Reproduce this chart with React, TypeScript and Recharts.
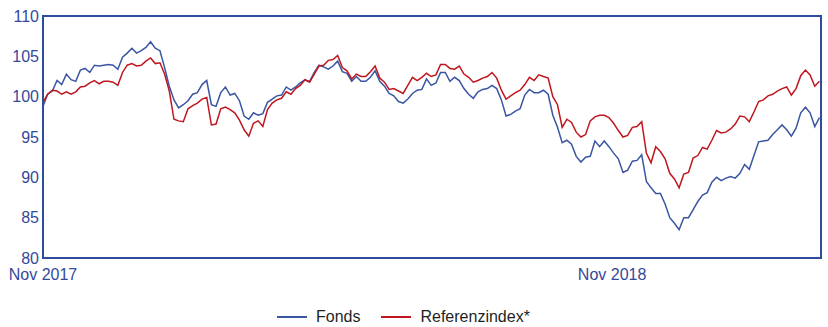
import { LineChart, Line, XAxis, YAxis, ReferenceArea } from 'recharts';

// Indexed performance, sampled every 3 calendar days starting Nov 2017
const fonds = [
  98.8, 100.3, 100.7, 102.0, 101.5, 102.8, 102.1, 101.9, 103.3, 103.5,
  103.0, 103.9, 103.8, 103.9, 104.0, 103.9, 103.4, 104.9, 105.4, 106.0,
  105.4, 105.7, 106.1, 106.8, 106.0, 105.7, 103.6, 101.3, 99.6, 98.6,
  99.0, 99.5, 100.3, 100.5, 101.5, 102.0, 99.0, 98.8, 100.5, 101.2,
  100.2, 100.4, 99.5, 97.6, 97.2, 98.0, 97.7, 97.9, 99.3, 99.7,
  100.1, 100.2, 101.2, 100.8, 101.2, 101.7, 102.1, 101.9, 103.0, 103.9,
  103.7, 103.4, 103.8, 104.4, 103.1, 102.9, 101.9, 102.5, 101.9, 101.9,
  102.4, 103.2, 101.9, 101.3, 100.4, 100.1, 99.4, 99.2, 99.7, 100.4,
  100.8, 100.9, 102.2, 101.4, 101.7, 103.0, 103.0, 101.9, 102.4, 102.0,
  101.0, 100.3, 99.8, 100.6, 100.9, 101.0, 101.4, 101.0, 99.6, 97.6,
  97.8, 98.2, 98.5, 100.2, 100.9, 100.5, 100.5, 100.8, 100.3, 97.7,
  96.2, 94.3, 94.6, 94.1, 92.6, 91.9, 92.5, 92.6, 94.5, 93.8,
  94.5, 93.8, 93.0, 92.3, 90.6, 90.9, 92.0, 92.1, 92.8, 89.5,
  88.7, 88.0, 88.0, 86.7, 85.0, 84.3, 83.5, 85.0, 85.0, 86.0,
  87.0, 87.8, 88.1, 89.4, 90.0, 89.6, 89.9, 90.1, 89.9, 90.5,
  91.6, 91.0, 92.7, 94.4, 94.5, 94.6, 95.3, 95.9, 96.5, 95.9,
  95.1, 96.1, 98.0, 98.7, 98.0, 96.3, 97.4,
];

const referenz = [
  99.3, 100.3, 100.8, 100.7, 100.3, 100.6, 100.3, 100.6, 101.2, 101.3,
  101.7, 102.0, 101.6, 101.9, 101.9, 101.8, 101.4, 103.0, 103.9, 104.1,
  103.8, 103.9, 104.4, 104.8, 104.1, 104.2, 102.8, 100.7, 97.2, 97.0,
  96.9, 98.5, 98.9, 99.2, 99.7, 99.9, 96.5, 96.6, 98.5, 98.7,
  98.4, 98.0, 97.1, 95.9, 95.1, 96.7, 97.0, 96.3, 98.4, 99.2,
  99.6, 99.8, 100.6, 100.3, 101.0, 101.4, 102.1, 101.8, 102.8, 103.8,
  103.9, 104.5, 104.6, 105.1, 103.6, 103.2, 102.2, 102.8, 102.5, 102.5,
  103.1, 103.8, 102.3, 101.8, 100.9, 101.0, 100.7, 100.4, 101.4, 102.4,
  102.0, 102.4, 102.9, 102.5, 102.7, 104.0, 104.0, 103.5, 103.4, 103.8,
  102.8, 102.4, 101.8, 102.0, 102.3, 102.5, 103.0, 102.3, 100.8, 99.7,
  100.1, 100.5, 100.8, 101.5, 102.4, 102.0, 102.7, 102.5, 102.3, 100.0,
  99.0, 96.2, 97.2, 96.8, 95.6, 95.0, 95.3, 97.0, 97.5, 97.7,
  97.7, 97.4, 96.7, 95.8, 95.0, 95.2, 96.2, 96.3, 96.9, 93.0,
  91.8, 93.8, 93.2, 92.3, 90.5, 89.8, 88.7, 90.4, 90.6, 92.4,
  92.7, 93.7, 93.5, 94.6, 95.8, 95.5, 95.6, 96.0, 96.6, 97.6,
  97.5, 96.9, 98.1, 99.4, 99.6, 100.1, 100.3, 100.7, 101.0, 101.2,
  100.2, 101.0, 102.6, 103.3, 102.7, 101.3, 101.9,
];

const STEP_DAYS = 3;
const LAST_DAY = 499;

const xTickDays = [0, 365];
const xTickLabels = ['Nov 2017', 'Nov 2018'];
const yTicks = [80, 85, 90, 95, 100, 105, 110];

const data = fonds.map((v, i) => ({
  day: i * STEP_DAYS,
  fonds: v,
  referenz: referenz[i],
}));

const BLUE = '#3a55a2';
const RED = '#c0161e';
const FRAME = '#2f4c9c';
const TICK_TEXT = '#35489a';
const FONT = '"Liberation Sans", Arial, sans-serif';

const tickStyle = { fontSize: 16, fill: TICK_TEXT, fontFamily: FONT };

function LegendItem({ color, label }: { color: string; label: string }) {
  return (
    <div style={{ display: 'flex', alignItems: 'center', marginRight: 21, height: 18 }}>
      <div style={{ width: 30, height: 2, background: color, marginRight: 9 }} />
      <div>{label}</div>
    </div>
  );
}

export default function App() {
  return (
    <div style={{ position: 'absolute', left: 0, top: 0, width: 828, height: 327, background: '#fff', overflow: 'hidden' }}>
      <LineChart
        width={828}
        height={327}
        data={data}
        margin={{ top: 16, right: 7, left: 0, bottom: 39 }}
      >
        <XAxis
          dataKey="day"
          type="number"
          domain={[0, LAST_DAY]}
          ticks={xTickDays}
          interval={0}
          tickFormatter={(d: number) => xTickLabels[xTickDays.indexOf(d)] ?? ''}
          height={30}
          tickSize={0}
          tickMargin={11}
          axisLine={{ stroke: FRAME, strokeWidth: 2 }}
          tick={tickStyle}
        />
        <YAxis
          type="number"
          domain={[80, 110]}
          ticks={yTicks}
          interval={0}
          width={43}
          tickSize={0}
          tickMargin={4}
          axisLine={{ stroke: FRAME, strokeWidth: 2 }}
          tick={tickStyle}
        />
        {/* frame around the plot */}
        <ReferenceArea
          x1={0}
          x2={LAST_DAY}
          y1={80}
          y2={110}
          fill="none"
          stroke={FRAME}
          strokeWidth={2}
          ifOverflow="visible"
        />
        <Line
          type="linear"
          dataKey="fonds"
          stroke={BLUE}
          strokeWidth={1.5}
          dot={false}
          isAnimationActive={false}
        />
        <Line
          type="linear"
          dataKey="referenz"
          stroke={RED}
          strokeWidth={1.5}
          dot={false}
          isAnimationActive={false}
        />
      </LineChart>
      <div
        style={{
          position: 'absolute',
          left: 277,
          top: 308,
          height: 18,
          display: 'flex',
          fontFamily: FONT,
          fontSize: 16,
          lineHeight: '18px',
          color: '#1f1f1f',
          whiteSpace: 'nowrap',
        }}
      >
        <LegendItem color={BLUE} label="Fonds" />
        <LegendItem color={RED} label="Referenzindex*" />
      </div>
    </div>
  );
}
